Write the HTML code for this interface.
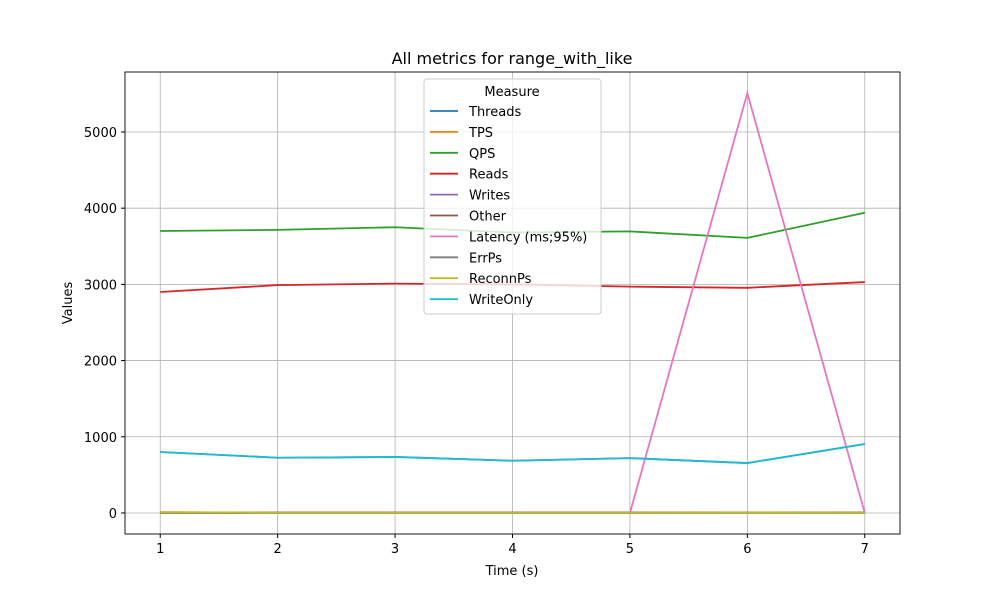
<!DOCTYPE html>
<html><head><meta charset="utf-8"><style>
body{margin:0;background:#fff;font-family:"Liberation Sans","DejaVu Sans",sans-serif}
svg text{font-family:"DejaVu Sans","Liberation Sans",sans-serif;fill:#000}
</style></head><body>
<svg id="c" width="1000" height="600"></svg>
<script>
const times=[1,2,3,4,5,6,7];
const seriesNames=["Threads","TPS","QPS","Reads","Writes","Other","Latency (ms;95%)","ErrPs","ReconnPs","WriteOnly"];
const colors=["#1f77b4","#ff7f0e","#2ca02c","#d62728","#9467bd","#8c564b","#e377c2","#7f7f7f","#bcbd22","#17becf"];
const threads=[8,8,8,8,8,8,8];
const tps=[10,5,5,5,5,8,5];
const qps=[3700,3715,3750,3680,3695,3610,3940];
const reads=[2900,2990,3010,3000,2970,2955,3030];
const writes=[800,725,735,685,720,655,905];
const other=[5,2,2,2,2,5,2];
const latency=[0,0,0,0,0,5510,0];
const errps=[0,0,0,0,0,0,0];
const reconnps=[10,3,3,3,3,5,3];
const writeonly=[800,725,735,685,720,655,905];
const yTicks=[0,1000,2000,3000,4000,5000];
const allSeries=[threads,tps,qps,reads,writes,other,latency,errps,reconnps,writeonly];
const L=125,R=900,T=72,B=534;
const xMin=0.7,xMax=7.3,yMin=-276,yMax=5787;
const X=v=>L+(v-xMin)/(xMax-xMin)*(R-L);
const Y=v=>B-(v-yMin)/(yMax-yMin)*(B-T);
const svg=document.getElementById('c');const NS='http://www.w3.org/2000/svg';
function mk(t,a,txt){const e=document.createElementNS(NS,t);for(const k in a)e.setAttribute(k,a[k]);if(txt!==undefined)e.textContent=txt;svg.appendChild(e);return e;}
let e;
e=mk('text',{x:512,y:64,'text-anchor':'middle','font-size':16},'All metrics for range_with_like');


times.forEach(t=>{
 e=mk('line',{x1:X(t),x2:X(t),y1:T,y2:B,stroke:'#b0b0b0','stroke-width':0.8});
 
 
 mk('line',{x1:X(t),x2:X(t),y1:B,y2:B+4,stroke:'#000'});
 e=mk('text',{x:X(t),y:B+19,'text-anchor':'middle','font-size':13},t);
 
 
});
yTicks.forEach(v=>{
 e=mk('line',{x1:L,x2:R,y1:Y(v),y2:Y(v),stroke:'#b0b0b0','stroke-width':0.8});
 
 
 mk('line',{x1:L-4,x2:L,y1:Y(v),y2:Y(v),stroke:'#000'});
 e=mk('text',{x:L-8,y:Y(v)+5,'text-anchor':'end','font-size':13},v);
 
 
});
allSeries.forEach((s,i)=>{
 e=mk('polyline',{points:s.map((v,j)=>X(times[j])+','+Y(v)).join(' '),fill:'none',stroke:colors[i],'stroke-width':1.8});
 
 
});
e=mk('rect',{x:L,y:T,width:R-L,height:B-T,fill:'none',stroke:'#000','stroke-width':0.9});


e=mk('text',{x:512,y:575,'text-anchor':'middle','font-size':13},'Time (s)');


e=mk('text',{x:72,y:303,'text-anchor':'middle','font-size':13,transform:'rotate(-90 72 303)'},'Values');


e=mk('rect',{x:424,y:79,width:177,height:235,rx:3,fill:'#fff','fill-opacity':0.8,stroke:'#ccc'});


e=mk('text',{x:512,y:96,'text-anchor':'middle','font-size':13},'Measure');


seriesNames.forEach((n,i)=>{
 const y=111+i*20.9;
 mk('line',{x1:430,x2:458,y1:y,y2:y,stroke:colors[i],'stroke-width':1.8});
 e=mk('text',{x:469,y:y+5,'font-size':13},n);
 
 
});
</script>
</body></html>
